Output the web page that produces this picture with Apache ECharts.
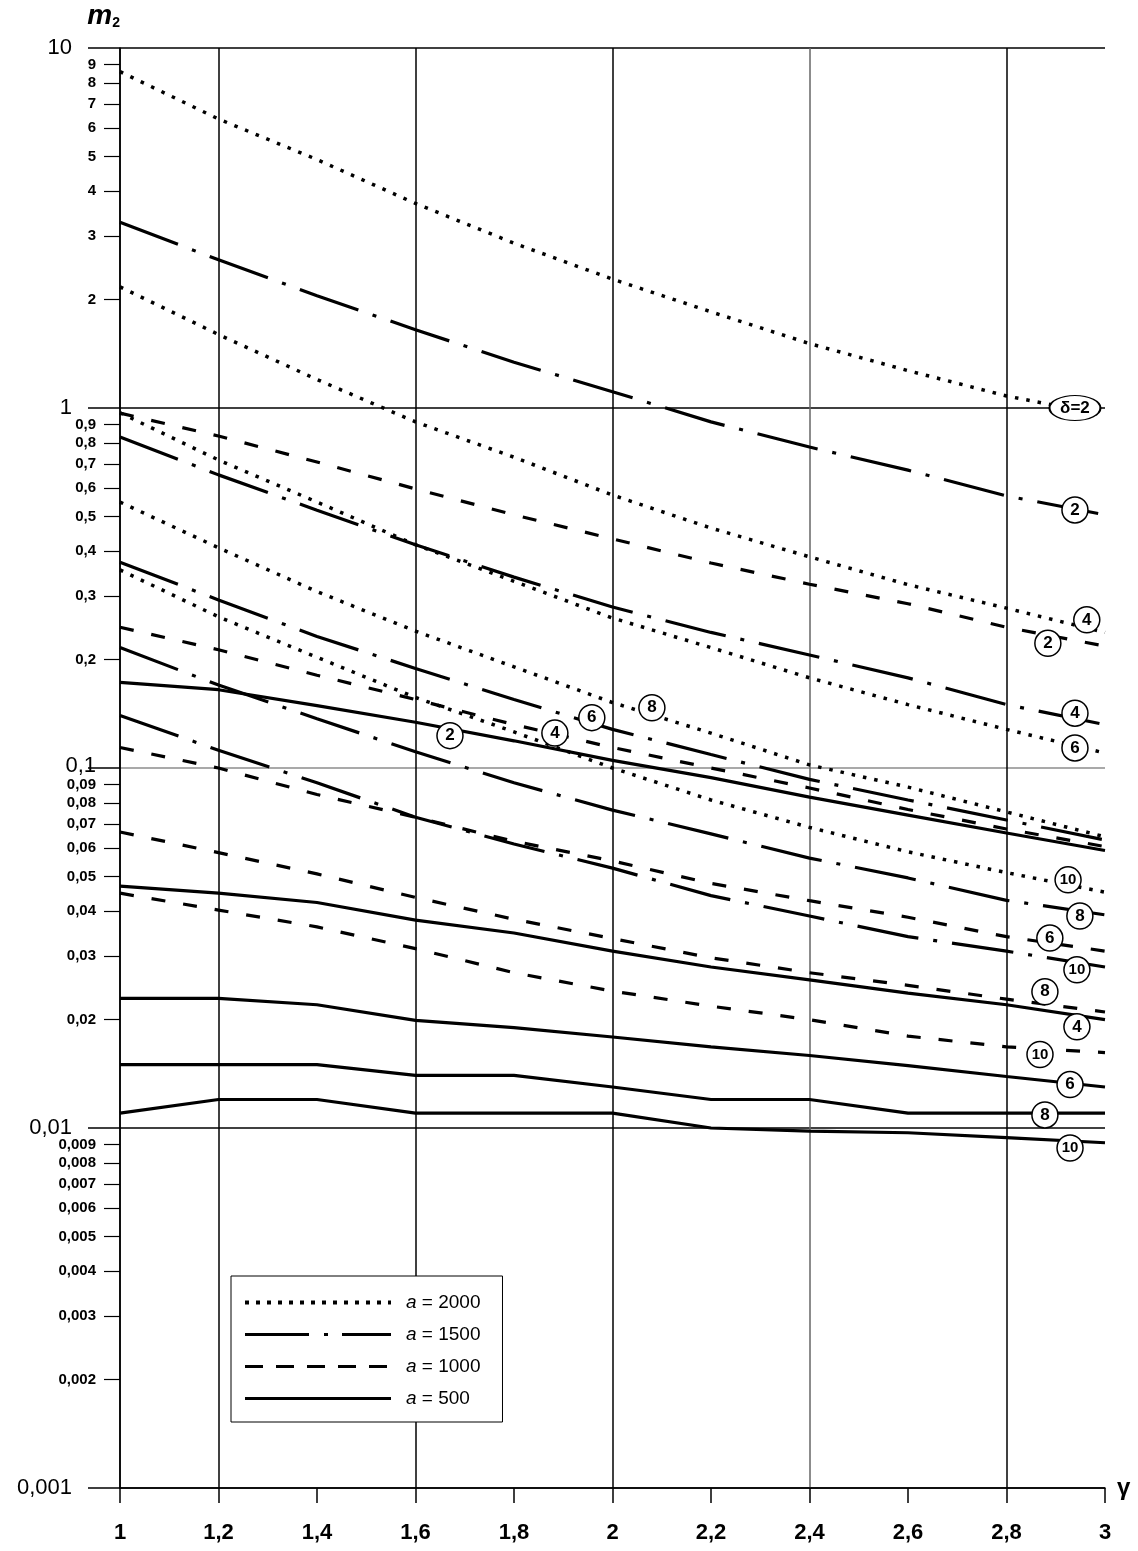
<!DOCTYPE html>
<html><head><meta charset="utf-8">
<script src="https://cdn.jsdelivr.net/npm/echarts@6/dist/echarts.min.js"></script>
<style>html,body{margin:0;padding:0;background:#fff}#c{width:1138px;height:1551px}</style>
</head><body><div id="c"></div>
<script>
// ---- data ----
const gamma = [1, 1.2, 1.4, 1.6, 1.8, 2, 2.2, 2.4, 2.6, 2.8, 3];
const deltas = [2, 4, 6, 8, 10];
// a = 2000 (dotted), rows: delta = 2,4,6,8,10
const a2000 = [
  [8.6, 6.35, 4.9, 3.7, 2.87, 2.28, 1.85, 1.51, 1.27, 1.08, 0.955],
  [2.17, 1.6, 1.2, 0.915, 0.73, 0.573, 0.464, 0.386, 0.323, 0.278, 0.238],
  [0.97, 0.717, 0.548, 0.417, 0.33, 0.261, 0.216, 0.178, 0.150, 0.128, 0.110],
  [0.548, 0.409, 0.309, 0.24, 0.191, 0.152, 0.125, 0.102, 0.0885, 0.0755, 0.0644],
  [0.355, 0.263, 0.203, 0.157, 0.126, 0.1, 0.0815, 0.0684, 0.0585, 0.0512, 0.0452]
];
// a = 1500 (dash-dot)
const a1500 = [
  [3.28, 2.58, 2.05, 1.65, 1.34, 1.11, 0.915, 0.779, 0.672, 0.57, 0.505],
  [0.831, 0.652, 0.52, 0.417, 0.339, 0.28, 0.238, 0.206, 0.178, 0.150, 0.132],
  [0.373, 0.293, 0.232, 0.189, 0.155, 0.128, 0.109, 0.093, 0.0815, 0.0717, 0.0631],
  [0.216, 0.170, 0.137, 0.111, 0.091, 0.0764, 0.0656, 0.0562, 0.0495, 0.0429, 0.0391],
  [0.140, 0.112, 0.091, 0.073, 0.0615, 0.0527, 0.0442, 0.0388, 0.034, 0.031, 0.028]
];
// a = 1000 (dashed)
const a1000 = [
  [0.968, 0.836, 0.708, 0.596, 0.505, 0.433, 0.371, 0.324, 0.286, 0.246, 0.218],
  [0.246, 0.213, 0.181, 0.155, 0.132, 0.114, 0.1, 0.088, 0.0767, 0.0677, 0.0605],
  [0.114, 0.100, 0.0844, 0.073, 0.0626, 0.0552, 0.0478, 0.0428, 0.0385, 0.034, 0.031],
  [0.0664, 0.0582, 0.0508, 0.0437, 0.038, 0.0336, 0.0297, 0.027, 0.0249, 0.0228, 0.021],
  [0.0449, 0.0403, 0.0362, 0.0315, 0.027, 0.024, 0.0218, 0.020, 0.018, 0.0168, 0.0162]
];
// a = 500 (solid)
const a500 = [
  [0.173, 0.165, 0.149, 0.134, 0.119, 0.105, 0.094, 0.083, 0.074, 0.066, 0.059],
  [0.047, 0.0449, 0.0423, 0.0378, 0.0348, 0.031, 0.028, 0.0258, 0.0237, 0.022, 0.020],
  [0.0229, 0.0229, 0.022, 0.0199, 0.019, 0.0179, 0.0168, 0.0159, 0.0149, 0.0139, 0.013],
  [0.015, 0.015, 0.015, 0.014, 0.014, 0.013, 0.012, 0.012, 0.011, 0.011, 0.011],
  [0.011, 0.012, 0.012, 0.011, 0.011, 0.011, 0.010, 0.0098, 0.0097, 0.0094, 0.0091]
];
// curve labels [gamma, m2, text], one per delta
const labels2000 = [[2.939, 1.0, 'δ=2'], [2.963, 0.258, '4'], [2.939, 0.1137, '6'], [2.080, 0.147, '8'], [2.925, 0.0489, '10']];
const labels1500 = [[2.939, 0.521, '2'], [2.939, 0.142, '4'], [1.958, 0.138, '6'], [2.949, 0.0388, '8'], [2.943, 0.0275, '10']];
const labels1000 = [[2.884, 0.222, '2'], [1.883, 0.125, '4'], [2.888, 0.0337, '6'], [2.878, 0.0239, '8'], [2.868, 0.0160, '10']];
const labels500  = [[1.670, 0.123, '2'], [2.943, 0.0191, '4'], [2.929, 0.0132, '6'], [2.878, 0.01087, '8'], [2.929, 0.0088, '10']];
const seriesNames = ['a = 2000', 'a = 1500', 'a = 1000', 'a = 500'];
// axis ticks
const xTicks = [1, 1.2, 1.4, 1.6, 1.8, 2, 2.2, 2.4, 2.6, 2.8, 3];
const yMajorTicks = [0.001, 0.01, 0.1, 1, 10];
const yMinorTicks = [
  2, 3, 4, 5, 6, 7, 8, 9,
  0.2, 0.3, 0.4, 0.5, 0.6, 0.7, 0.8, 0.9,
  0.02, 0.03, 0.04, 0.05, 0.06, 0.07, 0.08, 0.09,
  0.002, 0.003, 0.004, 0.005, 0.006, 0.007, 0.008, 0.009
];
const yInnerLabels = yMinorTicks.concat([0.1]);

// ---- styles ----
const FONT = '"Liberation Sans", Arial, sans-serif';
const dashes = [[3.5, 8], [62, 15, 4, 15], [14, 18], 'solid'];
const widths = [3.5, 3.2, 3.2, 3.2];
const legendDashes = [[4, 7], [64, 15, 4, 14], [18, 13], 'solid'];
const families = [a2000, a1500, a1000, a500];
const familyLabels = [labels2000, labels1500, labels1000, labels500];
const ellipse = 'path://M0,12A25,12,0,1,1,50,12A25,12,0,1,1,0,12Z';
const xGridColors = ['#000', '#000', 'rgba(0,0,0,0)', '#000', 'rgba(0,0,0,0)', '#000', 'rgba(0,0,0,0)', '#666', 'rgba(0,0,0,0)', '#000', 'rgba(0,0,0,0)'];
const yGridColors = ['#000', '#000', '#8c8c8c', '#000', '#000'];

function fmt(v) { return String(+(+v).toPrecision(6)).replace('.', ','); }
function isTenth(v) { return Math.abs(v - 0.1) < 1e-9; }

const series = [];
families.forEach((fam, fi) => {
  fam.forEach((vals, di) => {
    const lab = familyLabels[fi][di];
    const isEll = lab[2].length > 2;
    series.push({
      type: 'line', name: seriesNames[fi],
      data: gamma.map((g, i) => [g, vals[i]]),
      symbol: 'none', showSymbol: false, smooth: false, silent: true,
      animation: false,
      lineStyle: { color: '#000', width: widths[fi], type: dashes[fi], cap: 'butt' },
      itemStyle: { color: '#000' },
      markPoint: {
        silent: true, animation: false,
        symbol: isEll ? ellipse : 'circle',
        symbolSize: isEll ? [51, 25] : 26,
        itemStyle: { color: '#fff', borderColor: '#000', borderWidth: 1.5 },
        label: { show: true, formatter: lab[2], color: '#000', fontFamily: FONT,
                 fontSize: lab[2] === '10' ? 15 : 17, fontWeight: 'bold' },
        data: [{ coord: [lab[0], lab[1]], value: lab[2] }]
      }
    });
  });
});

const chart = echarts.init(document.getElementById('c'), null, { renderer: 'canvas' });
chart.setOption({
  backgroundColor: '#fff',
  animation: false,
  grid: { left: 120, right: 33, top: 48, bottom: 63, containLabel: false, outerBoundsMode: 'none' },
  legend: {
    show: true, orient: 'vertical', left: 231, top: 1276,
    itemWidth: 146, itemHeight: 14, itemGap: 13,
    padding: [17, 22, 14, 12],
    borderColor: '#000', borderWidth: 1, backgroundColor: '#fff',
    selectedMode: false,
    itemStyle: { opacity: 0 },
    textStyle: { fontFamily: FONT, fontSize: 19, color: '#000', padding: [0, 0, 0, 10], width: 82,
      rich: { i: { fontStyle: 'italic', fontSize: 19, fontFamily: FONT, color: '#000' } } },
    formatter: name => '{i|a}' + name.slice(1),
    data: seriesNames.map((n, i) => ({ name: n, lineStyle: { type: legendDashes[i], width: i === 0 ? 4 : 3.2, color: '#000' } }))
  },
  xAxis: {
    type: 'value', min: xTicks[0], max: xTicks[xTicks.length - 1], interval: 0.2,
    name: 'γ', nameLocation: 'end', nameGap: 12,
    nameTextStyle: { fontFamily: FONT, fontSize: 24, fontWeight: 'bold', color: '#000' },
    axisLine: { show: true, onZero: false, lineStyle: { color: '#000', width: 1.5 } },
    axisTick: { show: true, length: 15, lineStyle: { color: '#000', width: 1.5 } },
    axisLabel: { margin: 34, fontFamily: FONT, fontSize: 22, fontWeight: 'bold', color: '#000',
      formatter: v => fmt(+(+v).toFixed(1)) },
    splitLine: { show: true, lineStyle: { color: xGridColors, width: 1.5 } }
  },
  yAxis: [
    {
      type: 'log', logBase: 10, min: yMajorTicks[0], max: yMajorTicks[yMajorTicks.length - 1],
      name: '{m|m}{s|2}', nameLocation: 'end', nameGap: 18,
      nameTextStyle: { align: 'right', color: '#000',
        rich: {
          m: { fontFamily: FONT, fontSize: 28, fontWeight: 'bold', fontStyle: 'italic', color: '#000', lineHeight: 32, verticalAlign: 'bottom' },
          s: { fontFamily: FONT, fontSize: 14, fontWeight: 'bold', color: '#000', lineHeight: 26, verticalAlign: 'bottom' }
        } },
      axisLine: { show: true, onZero: false, lineStyle: { color: '#000', width: 1.5 } },
      axisTick: { show: true, length: 32, lineStyle: { color: '#000', width: 1.5 } },
      axisLabel: { margin: 48, fontFamily: FONT, fontSize: 22, color: '#000',
        formatter: v => isTenth(v) ? '' : fmt(v) },
      splitLine: { show: true, lineStyle: { color: yGridColors, width: 1.5 } }
    },
    {
      type: 'log', logBase: 10, min: yMajorTicks[0], max: yMajorTicks[yMajorTicks.length - 1],
      position: 'left', offset: 0,
      axisLine: { show: false }, splitLine: { show: false },
      axisTick: { show: true, length: 16, customValues: yMinorTicks, lineStyle: { color: '#000', width: 1.2 } },
      axisLabel: { show: true, margin: 24, customValues: yInnerLabels, fontFamily: FONT, fontSize: 15,
        fontWeight: 'bold', color: '#000',
        formatter: v => isTenth(v) ? '{big|' + fmt(v) + '}' : fmt(v),
        rich: { big: { fontFamily: FONT, fontSize: 22, fontWeight: 'normal', color: '#000', padding: [0, 0, 4, 0] } } }
    }
  ],
  series: series
});
</script>
</body></html>
